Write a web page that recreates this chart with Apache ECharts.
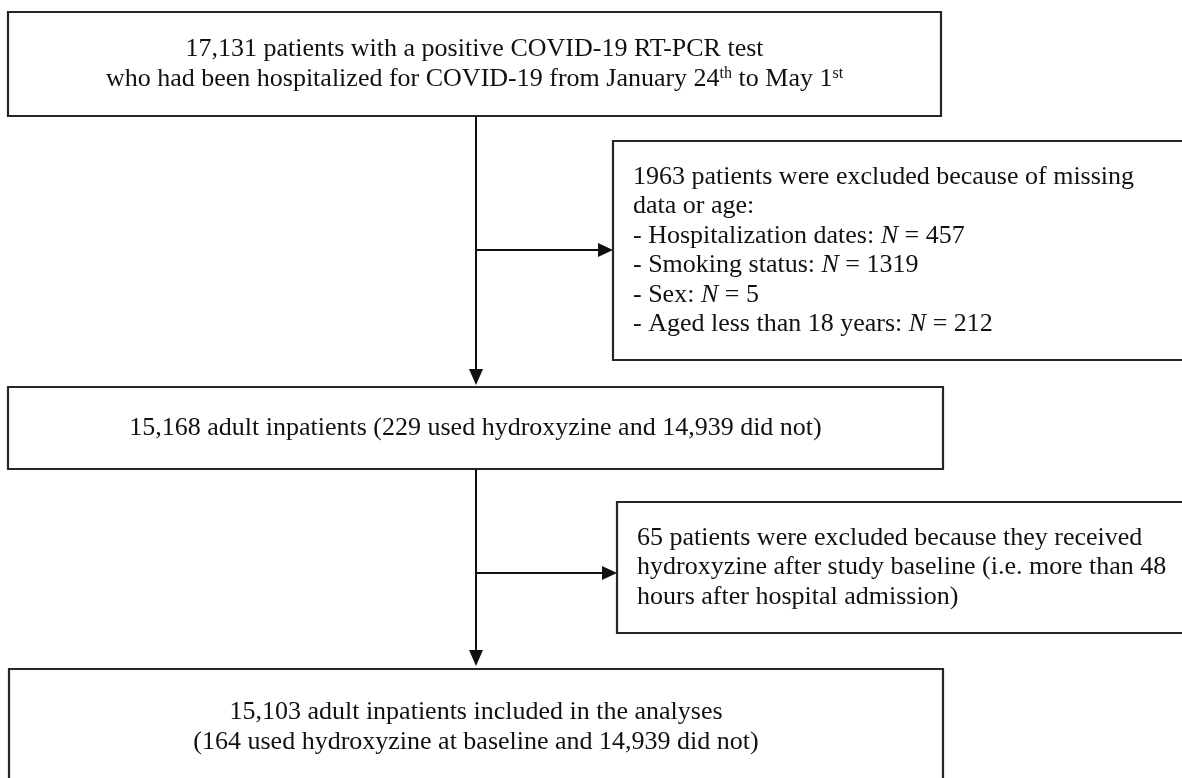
<!DOCTYPE html>
<html>
<head>
<meta charset="utf-8">
<script src="https://cdn.jsdelivr.net/npm/echarts@6/dist/echarts.min.js"></script>
<style>
  html, body { margin: 0; padding: 0; background: #fff; }
  #chart { width: 1182px; height: 778px; }
</style>
</head>
<body>
<div id="chart"></div>
<script>
// box texts, one entry per printed line ({sup|..} superscript, {i|..} italic)
const startLines = [
  "17,131 patients with a positive COVID-19 RT-PCR test",
  "who had been hospitalized for COVID-19 from January 24{sup|th} to May 1{sup|st}",
];
const exclusion1Lines = [
  "1963 patients were excluded because of missing",
  "data or age:",
  "- Hospitalization dates: {i|N} = 457",
  "- Smoking status: {i|N} = 1319",
  "- Sex: {i|N} = 5",
  "- Aged less than 18 years: {i|N} = 212",
];
const adultLines = [
  "15,168 adult inpatients (229 used hydroxyzine and 14,939 did not)",
];
const exclusion2Lines = [
  "65 patients were excluded because they received",
  "hydroxyzine after study baseline (i.e. more than 48",
  "hours after hospital admission)",
];
const finalLines = [
  "15,103 adult inpatients included in the analyses",
  "(164 used hydroxyzine at baseline and 14,939 did not)",
];

const FONT = '"Liberation Serif", "Times New Roman", serif';
const FS = 26;
const LH = 29.5;
const INK = "#111";

// layout (pixels)
const boxes = [
  { lines: startLines, x: 8, y: 12, w: 933, h: 104, align: "center" },
  { lines: exclusion1Lines, x: 613, y: 141, w: 590, h: 219, align: "left" },
  { lines: adultLines, x: 8, y: 387, w: 935, h: 82, align: "center" },
  { lines: exclusion2Lines, x: 617, y: 502, w: 590, h: 131, align: "left" },
  { lines: finalLines, x: 9, y: 669, w: 934, h: 116, align: "center" },
];
const spineX = 476;
const sideArrowY = [250, 573];

const rich = {
  sup: { fontFamily: FONT, fontSize: 16, verticalAlign: "top", fill: INK },
  i: { fontFamily: FONT, fontSize: FS, fontStyle: "italic", fill: INK },
};

const elements = [];

boxes.forEach((b) => {
  elements.push({
    type: "rect",
    shape: { x: b.x, y: b.y, width: b.w, height: b.h },
    style: { fill: "#fff", stroke: "#262626", lineWidth: 2.2 },
    z: 1,
  });
  const top = b.y + b.h / 2 - ((b.lines.length - 1) * LH) / 2;
  b.lines.forEach((line, k) => {
    elements.push({
      type: "text",
      x: b.align === "center" ? b.x + b.w / 2 : b.x + 20,
      y: top + k * LH,
      style: {
        text: line,
        rich: rich,
        fontFamily: FONT,
        fontSize: FS,
        fill: INK,
        align: b.align,
        verticalAlign: "middle",
      },
      z: 2,
    });
  });
});

function arrowDown(x, y0, y1) {
  elements.push({
    type: "line",
    shape: { x1: x, y1: y0, x2: x, y2: y1 - 14 },
    style: { stroke: INK, lineWidth: 2 },
    z: 3,
  });
  elements.push({
    type: "polygon",
    shape: { points: [[x - 7, y1 - 16], [x + 7, y1 - 16], [x, y1]] },
    style: { fill: INK },
    z: 3,
  });
}

function arrowRight(x0, x1, y) {
  elements.push({
    type: "line",
    shape: { x1: x0, y1: y, x2: x1 - 14, y2: y },
    style: { stroke: INK, lineWidth: 2 },
    z: 3,
  });
  elements.push({
    type: "polygon",
    shape: { points: [[x1 - 15, y - 7], [x1 - 15, y + 7], [x1, y]] },
    style: { fill: INK },
    z: 3,
  });
}

arrowDown(spineX, boxes[0].y + boxes[0].h, boxes[2].y - 2);
arrowDown(spineX, boxes[2].y + boxes[2].h, boxes[4].y - 3);
arrowRight(spineX, boxes[1].x, sideArrowY[0]);
arrowRight(spineX, boxes[3].x, sideArrowY[1]);

const chart = echarts.init(document.getElementById("chart"), null, { renderer: "canvas" });
chart.setOption({
  backgroundColor: "#fff",
  animation: false,
  graphic: { elements: elements },
});

window.addEventListener("resize", () => chart.resize());
</script>
</body>
</html>
